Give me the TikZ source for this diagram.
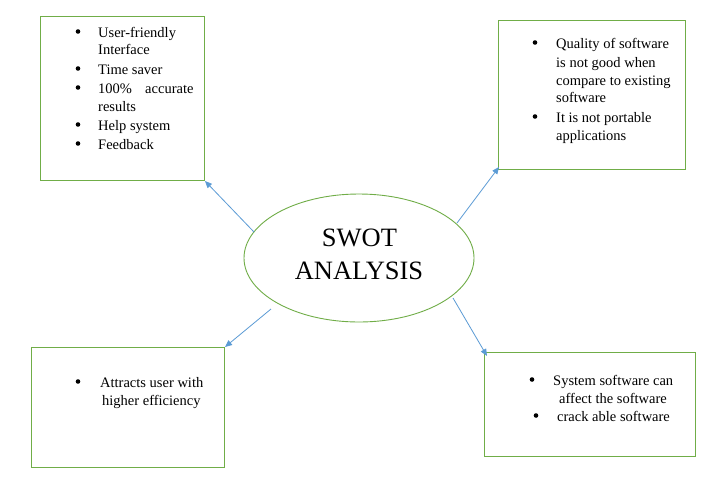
\documentclass[tikz,border=0pt]{standalone}
\usepackage{fontspec}
\setmainfont{Liberation Serif}
\usetikzlibrary{arrows.meta,shapes.geometric}
\definecolor{boxgreen}{RGB}{112,173,71}
\definecolor{linkblue}{RGB}{91,155,213}
\begin{document}
\begin{tikzpicture}[x=1pt,y=-1pt,
  panel/.style={draw=boxgreen,line width=1pt,rectangle,inner sep=0pt},
  hub/.style={draw=boxgreen,line width=0.9pt,ellipse,inner sep=0pt,minimum width=230pt,minimum height=128pt},
  link/.style={draw=linkblue,line width=0.8pt,-{Triangle[length=7pt,width=6pt]}},
  txt/.style={anchor=base west,inner sep=0pt,font=\fontsize{14.5}{17}\selectfont},
  dot/.style={circle,fill=black,inner sep=0pt,minimum size=4.6pt,yshift=5.5pt},
  title/.style={anchor=base,inner sep=0pt,font=\fontsize{26.5}{30}\selectfont}]
\useasboundingbox (0,0) rectangle (714,496);
\fill[white] (0,0) rectangle (714,496);

% central ellipse
\node[hub] (swot) at (359,258) {};
\node[title] (t1) at (359.5,246) {SWOT};
\node[title] (t2) at (359,279) {ANALYSIS};

% four panels
\node[panel,minimum width=164pt,minimum height=164pt] (str) at (122,98) {};
\node[panel,minimum width=187pt,minimum height=149pt] (wea) at (591.5,94.5) {};
\node[panel,minimum width=193pt,minimum height=120pt] (opp) at (127.5,407) {};
\node[panel,minimum width=211pt,minimum height=104pt] (thr) at (589.5,404) {};

% strengths
\node[dot] (b1) at (78,37) {};
\node[txt] (s1) at (98,37) {User-friendly};
\node[txt] (s2) at (98,54) {Interface};
\node[dot] (b2) at (78,74) {};
\node[txt] (s3) at (98,74) {Time saver};
\node[dot] (b3) at (78,93) {};
\node[txt] (s4) at (98,93) {100\%};
\node[txt] (s5) at (145,93) {accurate};
\node[txt] (s6) at (98,111) {results};
\node[dot] (b4) at (78,130) {};
\node[txt] (s7) at (98,130) {Help system};
\node[dot] (b5) at (78,149) {};
\node[txt] (s8) at (98,149) {Feedback};

% weaknesses
\node[dot] (b6) at (535,48) {};
\node[txt] (w1) at (556,48) {Quality of software};
\node[txt] (w2) at (556,67) {is not good when};
\node[txt] (w3) at (556,85) {compare to existing};
\node[txt] (w4) at (556,102) {software};
\node[dot] (b7) at (535,122) {};
\node[txt] (w5) at (556,122) {It is not portable};
\node[txt] (w6) at (556,140) {applications};

% opportunities
\node[dot] (b8) at (78,387) {};
\node[txt] (o1) at (100,387) {Attracts user with};
\node[txt] (o2) at (102,405) {higher efficiency};

% threats
\node[dot] (b9) at (532,385) {};
\node[txt] (h1) at (553,385) {System software can};
\node[txt] (h2) at (559,403) {affect the software};
\node[dot] (b10) at (536,421) {};
\node[txt] (h3) at (557,421) {crack able software};

% connector end points
\coordinate (a1) at (254,232);
\coordinate (e1) at (205,181);
\coordinate (a2) at (457,223);
\coordinate (e2) at (499,167);
\coordinate (a3) at (271,309);
\coordinate (e3) at (225,347);
\coordinate (a4) at (453,298);
\coordinate (e4) at (487,356);

\draw[link] (a1) -- (e1);
\draw[link] (a2) -- (e2);
\draw[link] (a3) -- (e3);
\draw[link] (a4) -- (e4);
\end{tikzpicture}
\end{document}
